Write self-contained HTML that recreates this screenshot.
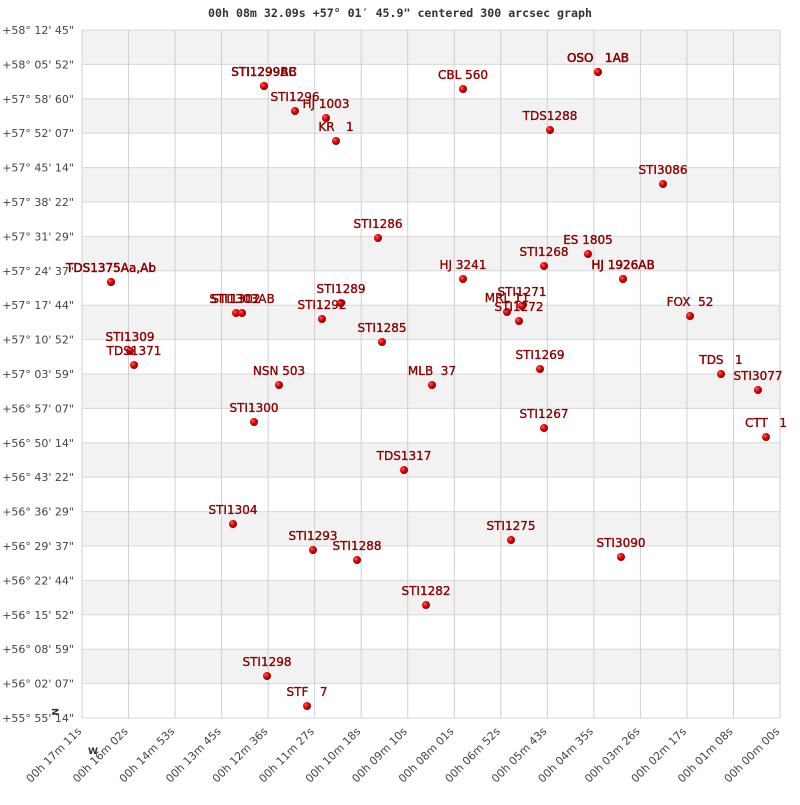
<!DOCTYPE html>
<html><head><meta charset="utf-8"><style>
html,body{margin:0;padding:0;background:#fff;}
svg text{font-family:"DejaVu Sans","Liberation Sans",sans-serif;}
.l{font-size:12px;fill:#8b0000;stroke:#8b0000;stroke-width:0.35;text-anchor:middle;}
.ax{font-size:11px;fill:#444;}
</style></head><body>
<svg width="800" height="800" xmlns="http://www.w3.org/2000/svg">
<defs><radialGradient id="g" cx="0.35" cy="0.35" r="0.7"><stop offset="0" stop-color="#ff6060"/><stop offset="0.5" stop-color="#dd0000"/><stop offset="1" stop-color="#800000"/></radialGradient></defs>
<text x="400" y="17" text-anchor="middle" style="font-family:'DejaVu Sans Mono','Liberation Mono',monospace;font-size:11.6px;font-weight:bold;fill:#333">00h 08m 32.09s +57° 01′ 45.9" centered 300 arcsec graph</text>
<g id="bands"></g>
<g id="grid"></g>
<g id="pts"></g>
</svg>
<script>
const NS="http://www.w3.org/2000/svg";
function el(p,t,a,txt){const e=document.createElementNS(NS,t);for(const k in a)e.setAttribute(k,a[k]);if(txt!==undefined)e.textContent=txt;p.appendChild(e);return e;}
const B=document.getElementById('bands'),G=document.getElementById('grid'),P=document.getElementById('pts');
const L=82,R=780,T=30,Bt=718,dy=(Bt-T)/20,dx=(R-L)/15;
for(let i=0;i<20;i++){el(B,'rect',{x:L,y:T+i*dy,width:R-L,height:dy,fill:i%2==0?'#f2f2f2':'#fff'});}
const yl=["+58° 12' 45\"","+58° 05' 52\"","+57° 58' 60\"","+57° 52' 07\"","+57° 45' 14\"","+57° 38' 22\"","+57° 31' 29\"","+57° 24' 37\"","+57° 17' 44\"","+57° 10' 52\"","+57° 03' 59\"","+56° 57' 07\"","+56° 50' 14\"","+56° 43' 22\"","+56° 36' 29\"","+56° 29' 37\"","+56° 22' 44\"","+56° 15' 52\"","+56° 08' 59\"","+56° 02' 07\"","+55° 55' 14\""];
for(let i=0;i<=20;i++){const y=T+i*dy;el(G,'line',{x1:L,x2:R,y1:y,y2:y,stroke:'#d8d8d8','stroke-width':1});el(G,'text',{x:74,y:y+4,'text-anchor':'end',class:'ax'},yl[i]);}
const xl=["00h 17m 11s","00h 16m 02s","00h 14m 53s","00h 13m 45s","00h 12m 36s","00h 11m 27s","00h 10m 18s","00h 09m 10s","00h 08m 01s","00h 06m 52s","00h 05m 43s","00h 04m 35s","00h 03m 26s","00h 02m 17s","00h 01m 08s","00h 00m 00s"];
for(let i=0;i<=15;i++){const x=L+i*dx;el(G,'line',{x1:x,x2:x,y1:T,y2:Bt,stroke:'#cfcfcf','stroke-width':1});el(G,'text',{x:x,y:732,'text-anchor':'end',class:'ax',transform:`rotate(-45 ${x} 732)`},xl[i]);}
el(G,'text',{x:88,y:754,'font-size':'9','font-weight':'bold',fill:'#333'},'W');
el(G,'text',{x:52,y:708,'font-size':'9','font-weight':'bold',fill:'#333',transform:'rotate(90 52 708)'},'N');
const pts=[["STI1299AB",264,86],["STI1299BC",264,86],["STI1296",295,111],["HJ 1003",326,118],["KR   1",336,141],["CBL 560",463,89],["OSO   1AB",598,72],["OSO   1AB",598,72],["TDS1288",550,130],["STI3086",663,184],["STI1286",378,238],["ES 1805",588,254],["STI1268",544,266],["HJ 3241",463,279],["HJ 1926AB",623,279],["HJ 1926AB",623,279],["TDS1375Aa,Ab",111,282],["TDS1375Aa,Ab",111,282],["STI1302",236,313],["STI1303AB",242,313],["STI1289",341,303],["STI1292",322,319],["MRL 11",507,312],["STI1271",522,306],["STI1272",519,321],["FOX  52",690,316],["STI1285",382,342],["STI1309",130,351],["TDS1371",134,365],["NSN 503",279,385],["MLB  37",432,385],["STI1269",540,369],["TDS   1",721,374],["STI3077",758,390],["STI1300",254,422],["STI1267",544,428],["CTT   1",766,437],["TDS1317",404,470],["STI1304",233,524],["STI1293",313,550],["STI1288",357,560],["STI1275",511,540],["STI3090",621,557],["STI1282",426,605],["STI1298",267,676],["STF   7",307,706]];
for(const [n,x,y] of pts){el(P,'circle',{cx:x,cy:y,r:4,fill:'url(#g)'});const t=el(P,'text',{x:x,y:y-10,class:'l'},n);t.style.whiteSpace='pre';}
</script>
</body></html>
